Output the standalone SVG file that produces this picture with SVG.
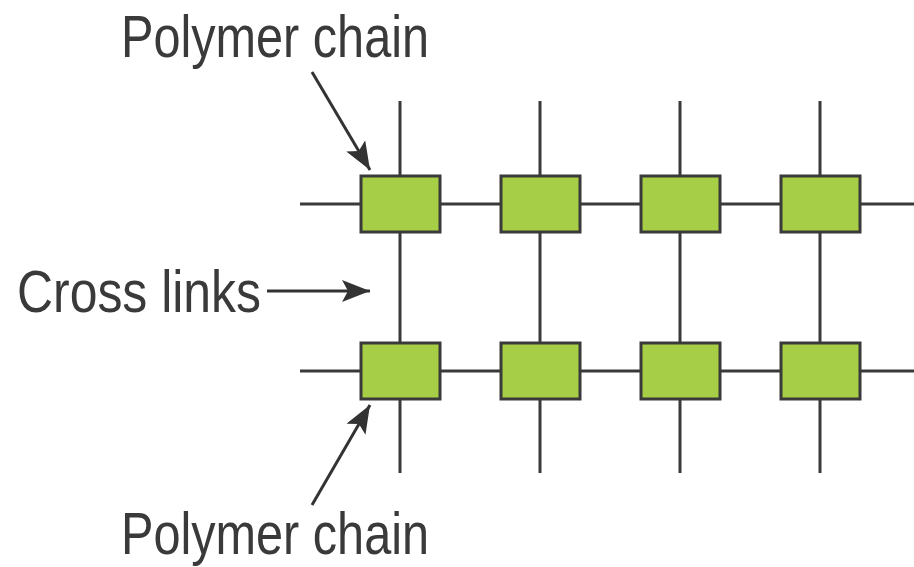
<svg xmlns="http://www.w3.org/2000/svg" width="914" height="567" viewBox="0 0 914 567">
<style>
.ln{stroke:#3a3a3a;stroke-width:3;fill:none}
.bx{fill:#a6ce46;stroke:#3a3a3a;stroke-width:3}
.t{font-family:"Liberation Sans",Arial,sans-serif;font-size:60px;fill:#3a3a3a}
.ar{stroke:#333;stroke-width:3;fill:none}
</style>
<defs>
<marker id="ah2" viewBox="0 0 28 22" refX="28" refY="11" markerWidth="28" markerHeight="22" markerUnits="userSpaceOnUse" orient="auto">
<path d="M0,0 L28,11 L0,22 L6,11 Z" fill="#333"/>
</marker>
</defs>
<g id="connectors">
<line class="ln" x1="300" y1="204" x2="914" y2="204"/>
<line class="ln" x1="300" y1="371" x2="914" y2="371"/>
<line class="ln" x1="400" y1="101" x2="400" y2="473"/>
<line class="ln" x1="540" y1="101" x2="540" y2="473"/>
<line class="ln" x1="680" y1="101" x2="680" y2="473"/>
<line class="ln" x1="820" y1="101" x2="820" y2="473"/>
<line class="ar" x1="312" y1="72" x2="370" y2="170" marker-end="url(#ah2)"/>
<line class="ar" x1="312" y1="505" x2="370" y2="405" marker-end="url(#ah2)"/>
<line class="ar" x1="267" y1="291" x2="370" y2="291" marker-end="url(#ah2)"/>
</g>
<g id="row1">
<rect class="bx" x="361" y="176" width="79" height="56"/>
<rect class="bx" x="501" y="176" width="79" height="56"/>
<rect class="bx" x="641" y="176" width="79" height="56"/>
<rect class="bx" x="781" y="176" width="79" height="56"/>
</g>
<g id="row2">
<rect class="bx" x="361" y="343" width="79" height="56"/>
<rect class="bx" x="501" y="343" width="79" height="56"/>
<rect class="bx" x="641" y="343" width="79" height="56"/>
<rect class="bx" x="781" y="343" width="79" height="56"/>
</g>
<g id="label-top"><text class="t" x="121" y="57" textLength="308" lengthAdjust="spacingAndGlyphs">Polymer chain</text></g>
<g id="label-cross"><text class="t" x="17" y="312" textLength="244" lengthAdjust="spacingAndGlyphs">Cross links</text></g>
<g id="label-bottom"><text class="t" x="121" y="554" textLength="308" lengthAdjust="spacingAndGlyphs">Polymer chain</text></g>
</svg>
